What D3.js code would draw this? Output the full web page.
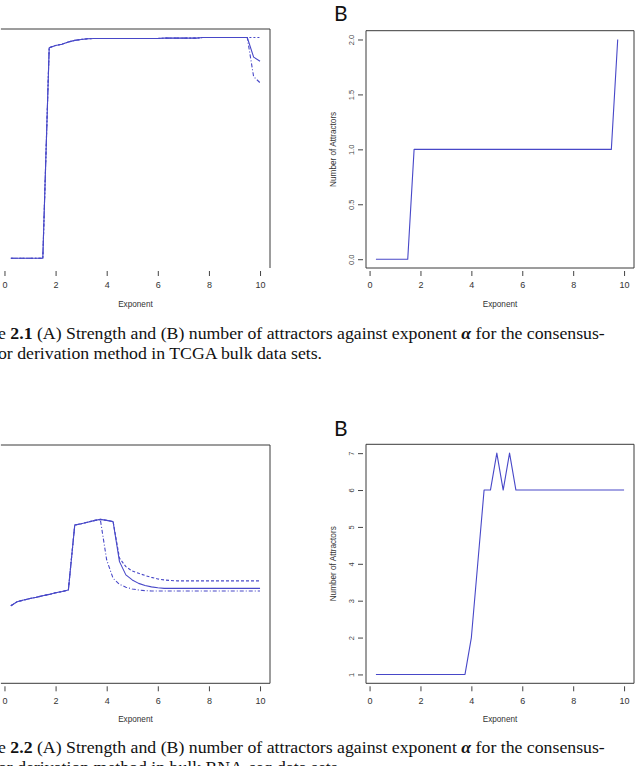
<!DOCTYPE html>
<html><head><meta charset="utf-8">
<script src="https://cdn.jsdelivr.net/npm/d3@7"></script>
<style>html,body{margin:0;padding:0;background:#fff;overflow:hidden}</style>
</head><body>
<script>
// ---------- data ----------
const xTickValues = [0, 2, 4, 6, 8, 10];

const exponent40 = [0.25,0.5,0.75,1,1.25,1.5,1.75,2,2.25,2.5,2.75,3,3.25,3.5,3.75,4,4.25,4.5,4.75,5,5.25,5.5,5.75,6,6.25,6.5,6.75,7,7.25,7.5,7.75,8,8.25,8.5,8.75,9,9.25,9.5,9.75,10];
const exponent39 = [0.25,0.5,0.75,1,1.25,1.5,1.75,2,2.25,2.5,2.75,3,3.25,3.5,3.75,4,4.25,4.5,4.75,5,5.25,5.5,5.75,6,6.25,6.5,6.75,7,7.25,7.5,7.75,8,8.25,8.5,8.75,9,9.25,9.5,9.75];

// Fig 2.1 A : strength (three variants)
const strengthA1_long = [0.003,0.003,0.003,0.003,0.003,0.003,0.669,0.676,0.680,0.687,0.692,0.695,0.697,0.698,0.698,0.698,0.698,0.698,0.698,0.698,0.698,0.698,0.698,0.698,0.699,0.699,0.699,0.699,0.699,0.699,0.701,0.701,0.701,0.701,0.701,0.701,0.701,0.701,0.639,0.626];
const strengthA1_dot  = [0.003,0.003,0.003,0.003,0.003,0.003,0.669,0.676,0.680,0.687,0.692,0.695,0.697,0.698,0.698,0.698,0.698,0.698,0.698,0.698,0.698,0.698,0.698,0.698,0.699,0.699,0.699,0.699,0.699,0.699,0.701,0.701,0.701,0.701,0.701,0.701,0.701,0.701,0.701,0.701];
const strengthA1_dash = [0.003,0.003,0.003,0.003,0.003,0.003,0.669,0.676,0.680,0.687,0.692,0.695,0.697,0.698,0.698,0.698,0.698,0.698,0.698,0.698,0.698,0.698,0.698,0.698,0.699,0.699,0.699,0.699,0.699,0.699,0.701,0.701,0.701,0.701,0.701,0.701,0.701,0.701,0.577,0.558];
const yTicksA1 = [0, 0.1, 0.2, 0.3, 0.4, 0.5, 0.6, 0.7];

// Fig 2.1 B : number of attractors
const numberB1 = [0,0,0,0,0,0,1,1,1,1,1,1,1,1,1,1,1,1,1,1,1,1,1,1,1,1,1,1,1,1,1,1,1,1,1,1,1,1,2];
const yTicksB1 = [0, 0.5, 1, 1.5, 2];
const yTickLabelsB1 = ["0.0", "0.5", "1.0", "1.5", "2.0"];

// Fig 2.2 A : strength (three variants)
const strengthA2_long = [0.218,0.231,0.236,0.241,0.245,0.250,0.254,0.259,0.263,0.268,0.474,0.478,0.483,0.488,0.492,0.489,0.485,0.358,0.316,0.300,0.289,0.282,0.278,0.275,0.273,0.273,0.273,0.273,0.273,0.273,0.273,0.273,0.273,0.273,0.273,0.273,0.273,0.273,0.273,0.273];
const strengthA2_dash = [0.218,0.231,0.236,0.241,0.245,0.250,0.254,0.259,0.263,0.268,0.474,0.478,0.483,0.488,0.492,0.363,0.305,0.286,0.277,0.271,0.268,0.266,0.265,0.265,0.265,0.265,0.265,0.265,0.265,0.265,0.265,0.265,0.265,0.265,0.265,0.265,0.265,0.265,0.265,0.265];
const strengthA2_dot  = [0.218,0.231,0.236,0.241,0.245,0.250,0.254,0.259,0.263,0.268,0.474,0.478,0.483,0.488,0.492,0.489,0.485,0.369,0.342,0.328,0.321,0.314,0.308,0.303,0.300,0.298,0.297,0.297,0.297,0.297,0.297,0.297,0.297,0.297,0.297,0.297,0.297,0.297,0.297,0.297];
const yTicksA2 = [0, 0.1, 0.2, 0.3, 0.4, 0.5, 0.6];

// Fig 2.2 B : number of attractors
const numberB2 = [1,1,1,1,1,1,1,1,1,1,1,1,1,1,1,2,4,6,6,7,6,7,6,6,6,6,6,6,6,6,6,6,6,6,6,6,6,6,6,6];
const yTicksB2 = [1, 2, 3, 4, 5, 6, 7];
const yTickLabelsB2 = ["1", "2", "3", "4", "5", "6", "7"];

const xLabel = "Exponent";
const yLabelB = "Number of Attractors";
const caption1 = ["Figure ", "2.1", " (A) Strength and (B) number of attractors against exponent ", "α", " for the consensus-"];
const caption1b = "vector derivation method in TCGA bulk data sets.";
const caption2 = ["Figure ", "2.2", " (A) Strength and (B) number of attractors against exponent ", "α", " for the consensus-"];
const caption2b = "vector derivation method in bulk RNA-seq data sets.";

// ---------- drawing ----------
const W = 635, H = 766;
const LINE = "#4848c8";
const svg = d3.select("body").append("svg").attr("width", W).attr("height", H)
  .style("font-family", "'Liberation Sans', Arial, sans-serif");

function panel(o) {
  const x = d3.scaleLinear().domain([-0.14, 10.39]).range([o.left, o.right]);
  const y = d3.scaleLinear().domain(o.yDomain).range([o.bottom, o.top]);
  const g = svg.append("g");
  const sides = o.sides;
  const path = d3.path();
  if (sides.includes("t")) { path.moveTo(o.left, o.top); path.lineTo(o.right, o.top); }
  if (sides.includes("r")) { path.moveTo(o.right, o.top); path.lineTo(o.right, o.bottom); }
  if (sides.includes("b")) { path.moveTo(o.left, o.bottom); path.lineTo(o.right, o.bottom); }
  if (sides.includes("l")) { path.moveTo(o.left, o.top); path.lineTo(o.left, o.bottom); }
  g.append("path").attr("d", path.toString()).attr("fill", "none").attr("stroke", "#3a3a3a").attr("stroke-width", 1);

  // x axis
  const xa = g.append("g").attr("transform", `translate(0,${o.bottom + 3})`)
    .call(d3.axisBottom(x).tickValues(xTickValues).tickSize(5).tickPadding(6).tickFormat(d3.format("d")));
  xa.select(".domain").remove();
  xa.selectAll("line").attr("stroke", "#444");
  xa.selectAll("text").attr("font-size", 9).attr("fill", "#333").attr("font-family", "'Liberation Sans', Arial, sans-serif");
  g.append("text").attr("x", (o.left + o.right) / 2).attr("y", o.bottom + 38.5)
    .attr("text-anchor", "middle").attr("font-size", 8.2).attr("fill", "#333").text(xLabel);

  // y axis
  const ya = g.append("g").attr("transform", `translate(${o.left - 3},0)`)
    .call(d3.axisLeft(y).tickValues(o.yTicks).tickSize(5).tickFormat((d, i) => o.yLabels ? o.yLabels[i] : ""));
  ya.select(".domain").remove();
  ya.selectAll("line").attr("stroke", "#444");
  ya.selectAll("text")
    .attr("font-size", 7.5).attr("fill", "#444").attr("font-family", "'Liberation Sans', Arial, sans-serif")
    .attr("x", null).attr("dy", null).attr("text-anchor", "middle")
    .attr("transform", "translate(-9.5,0) rotate(-90)");
  if (o.yTitle) {
    g.append("text").attr("transform", `translate(${o.left - 30},${(o.top + o.bottom) / 2}) rotate(-90)`)
      .attr("text-anchor", "middle").attr("font-size", 8.2).attr("fill", "#333").text(o.yTitle);
  }

  // series
  const line = d3.line().x(d => x(d[0])).y(d => y(d[1]));
  o.series.forEach(s => {
    g.append("path").datum(d3.zip(s.x, s.y)).attr("d", line)
      .attr("fill", "none").attr("stroke", LINE).attr("stroke-width", 1.1)
      .attr("stroke-dasharray", s.dash || null).attr("stroke-linejoin", "round");
  });
}

panel({ left: 0.9, right: 270, top: 29, bottom: 268, sides: "tr", yDomain: [-0.028, 0.728], yTicks: yTicksA1,
  series: [
    { x: exponent40, y: strengthA1_dot, dash: "2,2" },
    { x: exponent40, y: strengthA1_dash, dash: "4,2,1,2" },
    { x: exponent40, y: strengthA1_long }
  ] });
panel({ left: 366, right: 634, top: 30.7, bottom: 268, sides: "trbl", yDomain: [-0.08, 2.08], yTicks: yTicksB1,
  yLabels: yTickLabelsB1, yTitle: yLabelB,
  series: [{ x: exponent39, y: numberB1 }] });
panel({ left: 0.9, right: 270, top: 445, bottom: 683.3, sides: "trb", yDomain: [-0.028, 0.728], yTicks: yTicksA2,
  series: [
    { x: exponent40, y: strengthA2_dot, dash: "3,2" },
    { x: exponent40, y: strengthA2_dash, dash: "4,2,1,2" },
    { x: exponent40, y: strengthA2_long }
  ] });
panel({ left: 366, right: 634, top: 444.3, bottom: 683.3, sides: "trbl", yDomain: [0.76, 7.24], yTicks: yTicksB2,
  yLabels: yTickLabelsB2, yTitle: yLabelB,
  series: [{ x: exponent40, y: numberB2 }] });

// panel letters
[21, 436].forEach(yy => {
  svg.append("text").attr("x", 334).attr("y", yy).attr("font-family", "Lato, 'Open Sans', sans-serif")
    .attr("font-size", 21).attr("fill", "#111").text("B");
});

// captions (the page is cropped at the left edge, as in the reference)
const FS = 17.75;
function measure(str) {
  const t = svg.append("text").attr("font-family", "'Liberation Serif', 'Times New Roman', serif")
    .attr("font-size", FS).text(str);
  const w = t.node().getComputedTextLength();
  t.remove();
  return w;
}
function caption(parts, second, baseline) {
  const x0 = -2 - measure("Figur");
  const t = svg.append("text").attr("x", x0).attr("y", baseline)
    .attr("font-family", "'Liberation Serif', 'Times New Roman', serif").attr("font-size", FS).attr("fill", "#111");
  parts.forEach((p, i) => {
    const ts = t.append("tspan").text(p);
    if (i === 1) ts.attr("font-weight", "bold");
    if (i === 3) ts.attr("font-weight", "bold").attr("font-style", "italic");
  });
  const x1 = -2 - measure("vect");
  svg.append("text").attr("x", x1).attr("y", baseline + 19.5)
    .attr("font-family", "'Liberation Serif', 'Times New Roman', serif").attr("font-size", FS).attr("fill", "#111")
    .text(second);
}
caption(caption1, caption1b, 339);
caption(caption2, caption2b, 753);
</script>
</body></html>
